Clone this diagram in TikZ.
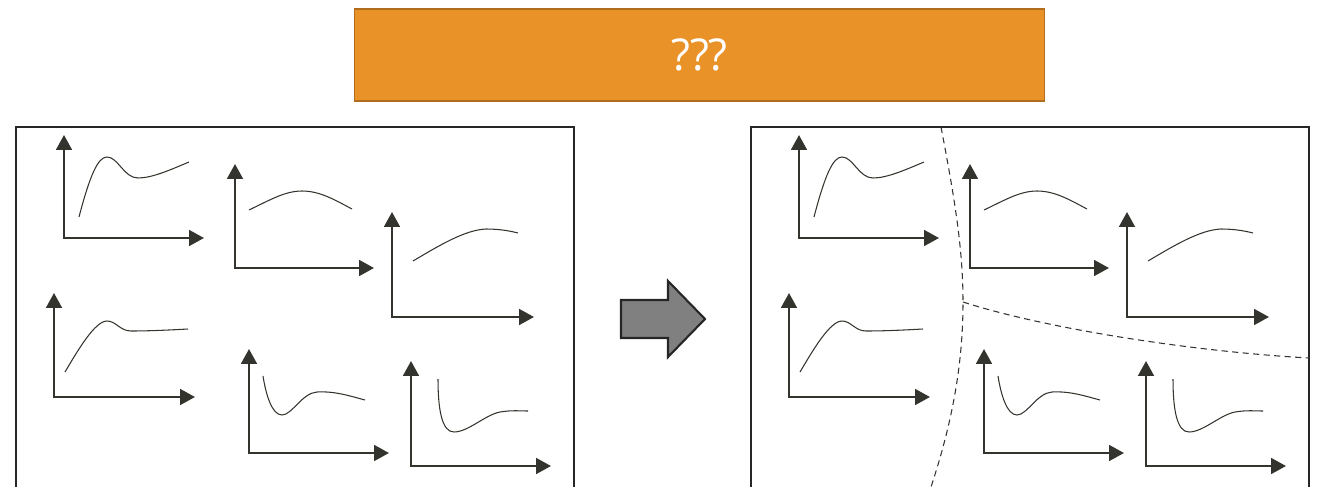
\documentclass[tikz,border=0pt]{standalone}
\usepackage{fontspec}
\newfontfamily\bannerfont{Open Sans}
\usetikzlibrary{arrows.meta}
\definecolor{axisgray}{RGB}{52,52,46}
\definecolor{bannerorange}{RGB}{232,146,40}
\definecolor{bannerline}{RGB}{178,108,30}

\begin{document}
\begin{tikzpicture}[
    x=0.02cm, y=-0.02cm,
    axis/.style={{Triangle[length=8.5pt,width=9pt]}-{Triangle[length=8.5pt,width=9pt]},
      line width=1.3pt, draw=axisgray},
    curve/.style={draw=axisgray, line width=0.6pt},
    panel/.style={draw=black!85, line width=1.1pt},
    split/.style={draw=axisgray, line width=0.6pt, dash pattern=on 3.5pt off 2.5pt},
    bigarrow/.style={draw=black!85, line width=1.2pt, fill=black!50, line join=miter},
    banner/.style={draw=bannerline, line width=0.9pt, fill=bannerorange,
      minimum width=13.8cm, minimum height=1.84cm, text=white,
      font=\bannerfont\fontsize{25}{30}\selectfont}
  ]
  \useasboundingbox (0,0) rectangle (1319,487);
  \clip (0,0) rectangle (1319,487);

  % Question
  \node[banner] (question) at (699.5,55) {???};

  % Panels, same set of responses on both sides
  \foreach \dx in {0,735} {
    \begin{scope}[shift={(\dx,0)}]
      \draw[panel] (16,495) |- (574,127) -- (574,495);
      % top row
      \draw[axis] (64,135) |- (204,238);
      \draw[curve] (79,217) .. controls (90,175) and (98,157) .. (107,157)
        .. controls (118,157) and (124,178) .. (138,178)
        .. controls (152,178) and (170,170) .. (189,162);
      \draw[axis] (235,164) |- (374,268);
      \draw[curve] (249,210) .. controls (270,200) and (285,191) .. (302,191)
        .. controls (320,191) and (335,200) .. (352,209);
      \draw[axis] (392,212) |- (534,317);
      \draw[curve] (413,261) .. controls (440,245) and (465,230) .. (486,229)
        .. controls (500,229) and (510,231) .. (518,233);
      % bottom row
      \draw[axis] (54,293) |- (195,397);
      \draw[curve] (65,372) .. controls (78,350) and (95,321) .. (107,321)
        .. controls (116,321) and (120,331) .. (131,331)
        .. controls (150,331) and (170,330) .. (188,329);
      \draw[axis] (249,349) |- (389,453);
      \draw[curve] (263,376) .. controls (266,395) and (272,415) .. (282,415)
        .. controls (292,415) and (302,393) .. (317,392)
        .. controls (335,391) and (350,396) .. (365,400);
      \draw[axis] (411,361) |- (551,466);
      \draw[curve] (438,379) .. controls (438,410) and (442,432) .. (454,432)
        .. controls (468,432) and (485,415) .. (500,412)
        .. controls (512,410) and (520,411) .. (528,411);
    \end{scope}
  }

  % Transformation
  \draw[bigarrow] (621,300) -- (668,300) -- (668,281) -- (705,319)
    -- (668,357) -- (668,338) -- (621,338) -- cycle;

  % Groups in the right panel
  \coordinate (meet) at (963,302);
  \draw[split] (941,127) .. controls (955,200) and (963,250) .. (meet)
    .. controls (963,370) and (950,430) .. (930,490);
  \draw[split] (meet) .. controls (1050,330) and (1200,352) .. (1309,358);
\end{tikzpicture}
\end{document}
